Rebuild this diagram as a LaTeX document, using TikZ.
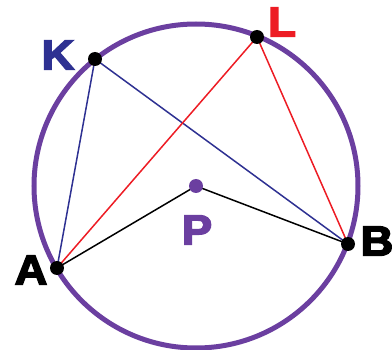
\documentclass[tikz,border=0pt]{standalone}
\usepackage{fontspec}
\setmainfont{Liberation Sans}
\newfontfamily\heavy[FakeBold=3.5]{Liberation Sans Bold}
\definecolor{cpurple}{HTML}{6B3FA0}
\definecolor{cblue}{HTML}{2E3192}
\definecolor{cred}{HTML}{ED1C24}
\begin{document}
\begin{tikzpicture}[x=1pt,y=-1pt,
  lbl/.style={font=\heavy\fontsize{42}{42}\selectfont, inner sep=0pt, anchor=center, xscale=1.08},
  dot/.style={circle, fill=black, inner sep=0pt, minimum size=14pt},
  seg/.style={line width=1.5pt}]
\useasboundingbox (0,0) rectangle (392,350);
\coordinate (P) at (196,186);
\draw[cpurple, line width=5pt] (P) circle (162);
\coordinate (K) at (95,59);
\coordinate (L) at (257,37);
\coordinate (A) at (57,268);
\coordinate (B) at (348,244);
\draw[seg, cblue] (A) -- (K) -- (B);
\draw[seg, cred] (A) -- (L) -- (B);
\draw[seg, black] (A) -- (P) -- (B);
\node[dot] (nK) at (K) {};
\node[dot] (nL) at (L) {};
\node[dot] (nA) at (A) {};
\node[dot] (nB) at (B) {};
\node[dot, fill=cpurple] (nP) at (P) {};
\node[lbl, text=cblue] (tK) at (58,55) {K};
\node[lbl, text=cred] (tL) at (282,22) {L};
\node[lbl, text=cpurple] (tP) at (197,230) {P};
\node[lbl] (tA) at (31,270) {A};
\node[lbl] (tB) at (377,241) {B};
\end{tikzpicture}
\end{document}
